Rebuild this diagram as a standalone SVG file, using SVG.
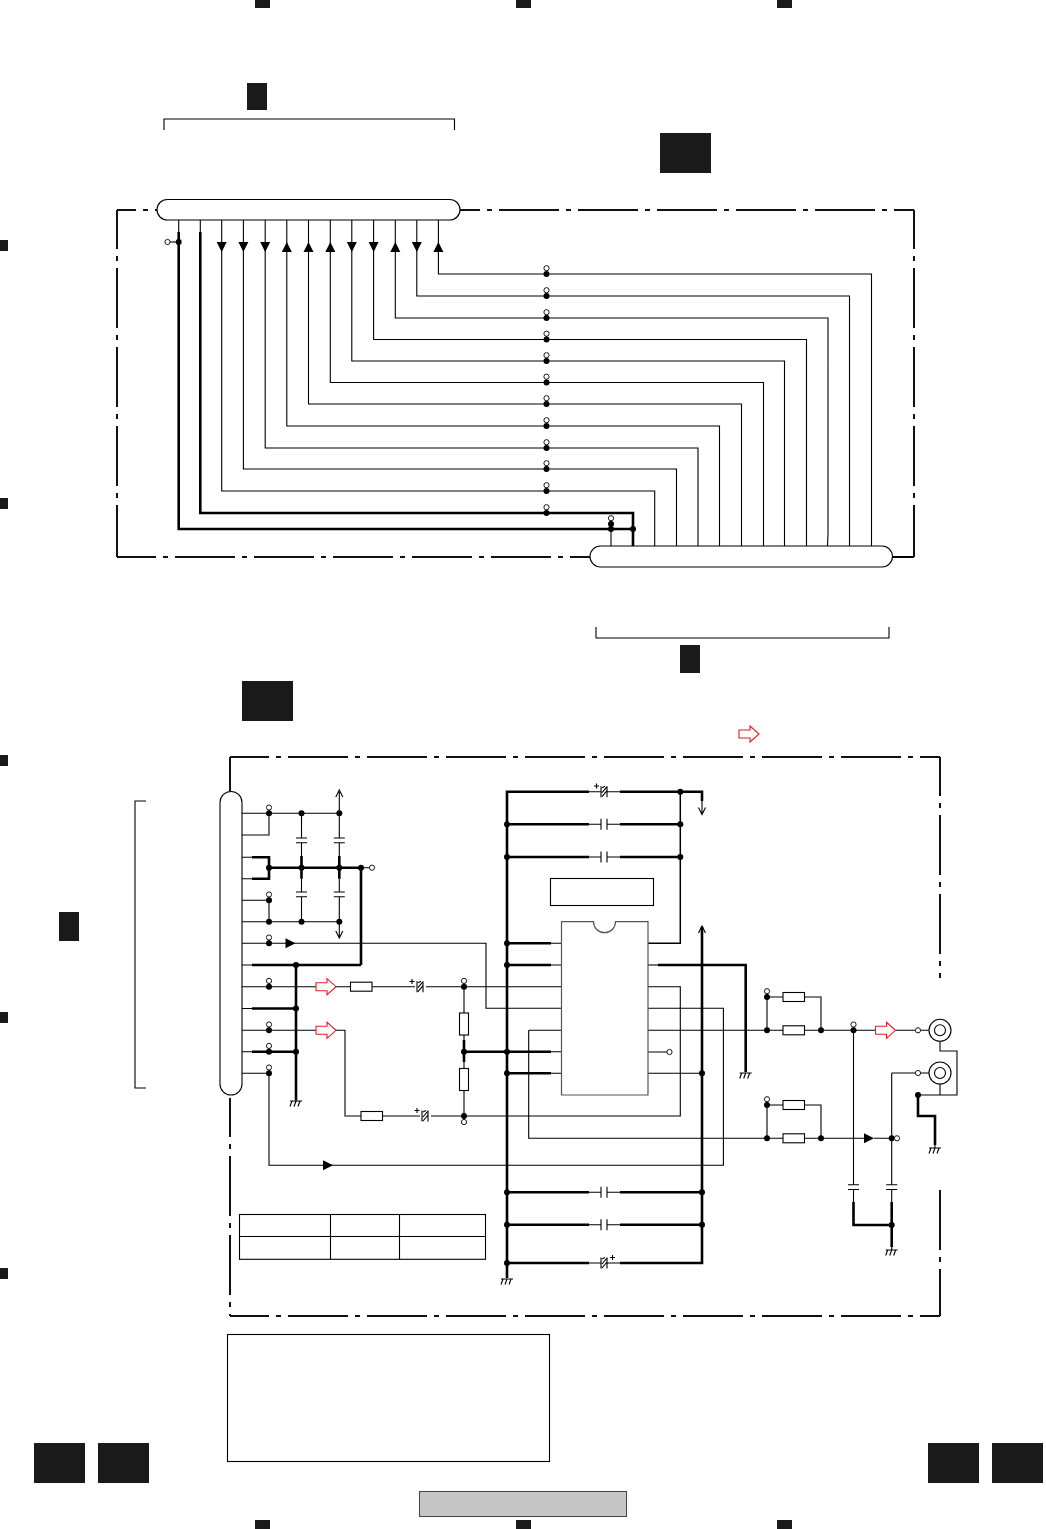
<svg xmlns="http://www.w3.org/2000/svg" xmlns:xlink="http://www.w3.org/1999/xlink" width="1046" height="1529" viewBox="0 0 1046 1529">
<style>
.t{fill:none;stroke:#000;stroke-width:1.1}
.b{fill:none;stroke:#000;stroke-width:2.6}
.f{fill:none;stroke:#111;stroke-width:2;stroke-dasharray:60 7 5 7}
.w{fill:#fff;stroke:#000;stroke-width:1.1}
.k{fill:#1a1a1a}
.o{fill:#fff;stroke:#000;stroke-width:.9}
.d{fill:#000}
.r{fill:#fff;stroke:#e01f26;stroke-width:1.1}
</style>
<defs>
<circle id="dot" class="d" r="3"/>
<circle id="open" class="o" r="2.6"/>
<g id="dotopen"><line class="t" x1="0" y1="-5" x2="0" y2="0"/><circle class="o" cy="-5.8" r="2.6"/><circle class="d" r="3"/></g>
<g id="gnd"><path class="t" d="M-6 0H6M-4 0L-6 5.5M0 0L-2 5.5M4 0L2 5.5"/></g>
<path id="tdn" class="d" d="M-5 0H5L0 10Z"/>
<path id="tup" class="d" d="M-5 10H5L0 0Z"/>
<path id="trt" class="d" d="M0 -5V5L10 0Z"/>
<path id="red" class="r" d="M0 -4H11V-8L20 0L11 8V4H0Z"/>
<rect id="res" class="w" x="0" y="-4.5" width="21.5" height="9"/>
<rect id="resv" class="w" x="-4.5" y="0" width="9" height="22"/>
<g id="capv"><path class="t" d="M-5.5 0H5.5M-5.5 4.8H5.5"/></g>
<g id="caph"><path class="t" d="M0 -5.5V5.5M6 -5.5V5.5"/></g>
<g id="pol"><path class="t" d="M0 -5.5V5.5M6 -5.5V5.5M1 5L6 -1M1 1L6 -5M1 -4L4 -5.5"/></g>
<path id="plus" class="t" d="M-2.5 0H2.5M0 -2.5V2.5"/>
<g id="jack"><circle class="w" r="11"/><circle class="w" r="5.5"/></g>
</defs>

<g id="registration-marks">
<rect class="k" x="255" y="0" width="15" height="8"/><rect class="k" x="516" y="0" width="15" height="8"/><rect class="k" x="777" y="0" width="15" height="8"/>
<rect class="k" x="255" y="1520" width="15" height="9"/><rect class="k" x="516" y="1520" width="15" height="9"/><rect class="k" x="777" y="1520" width="15" height="9"/>
<rect class="k" x="0" y="240" width="8" height="11"/><rect class="k" x="0" y="498" width="8" height="11"/><rect class="k" x="0" y="755" width="8" height="11"/><rect class="k" x="0" y="1012" width="8" height="11"/><rect class="k" x="0" y="1268" width="8" height="11"/>
</g>

<g id="labels-boxes">
<rect class="k" x="247" y="83" width="20" height="27"/>
<rect class="k" x="660" y="133" width="51" height="40"/>
<rect class="k" x="680" y="645" width="20" height="28"/>
<rect class="k" x="242" y="681" width="51" height="40"/>
<rect class="k" x="59" y="912" width="20" height="29"/>
<rect class="k" x="34" y="1443" width="51" height="40"/>
<rect class="k" x="98" y="1443" width="51" height="40"/>
<rect class="k" x="928" y="1443" width="51" height="40"/>
<rect class="k" x="992" y="1443" width="51" height="40"/>
<rect x="419.500" y="1491.500" width="207" height="25" fill="#c6c6c6" stroke="#444" stroke-width="1"/>
<use href="#red" x="739" y="734"/>
</g>

<g id="brackets">
<path class="t" d="M164 130V119H454.500V130" stroke-width="1.5"/>
<path class="t" d="M596 627V638H889V627" stroke-width="1.5"/>
<path class="t" d="M146 801H135V1088H146" stroke-width="1.5"/>
</g>

<g id="frames">
<line class="f" x1="117" y1="210" x2="157" y2="210" stroke-dashoffset="41"/>
<line class="f" x1="117" y1="210" x2="117" y2="557" stroke-dashoffset="21"/>
<line class="f" x1="117" y1="557" x2="590" y2="557" stroke-dashoffset="21"/>
<line class="f" x1="460" y1="210" x2="914" y2="210" stroke-dashoffset="40"/>
<line class="f" x1="914" y1="210" x2="914" y2="557" stroke-dashoffset="21"/>
<line class="t" x1="892" y1="557" x2="914" y2="557" style="stroke-width:2"/>
<line class="f" x1="230" y1="757" x2="940" y2="757" stroke-dashoffset="21"/>
<line class="f" x1="230" y1="757" x2="230" y2="791" stroke-dashoffset="21"/>
<line class="f" x1="230" y1="1098" x2="230" y2="1316" stroke-dashoffset="21"/>
<line class="f" x1="230" y1="1316" x2="940" y2="1316" stroke-dashoffset="21"/>
<line class="f" x1="940" y1="757" x2="940" y2="978" stroke-dashoffset="21"/>
<line class="f" x1="940" y1="1190" x2="940" y2="1316" stroke-dashoffset="0"/>
</g>

<g id="connectors">
<!-- top section -->
<path class="t" d="M178.700 220V232M200.300 220V232"/>
<path class="b" d="M178.700 232V529H633M200.300 232V513H633V546"/>
<path class="t" d="M611 546V518M633 529V546"/>
<path class="t" d="M178.700 242H168"/>
<path class="t" d="M221.700 220V491H654.700V546M243.400 220V469H676.500V546M265.200 220V448H698V546M286.800 220V426H719.500V546M308.500 220V404H741.500V546M330.300 220V382.500H763.500V546M351.800 220V361H784.500V546M373.600 220V339.500H806.500V546M395.300 220V318H828V534L827.500 546M416.800 220V296H849.500V546M438.400 220V274H871.500V546"/>
<!-- left power -->
<path class="t" d="M242 813.300H339.300V792M335.800 797L339.300 790L342.800 797M269 813.300V835H242"/>
<path class="t" d="M301.500 813.300V838M339.300 813.300V838M301.500 843V856M339.300 843V856"/>
<path class="b" d="M252 857.300H269V878.700H252M269 867.700H361V965"/>
<path class="b" d="M301.500 856V878.700M339.300 856V878.700M252 965H361"/>
<path class="t" d="M242 857.300H252M242 878.700H252M242 965H252M361 867.700H370"/>
<path class="t" d="M301.500 878.700V892M339.300 878.700V892M301.500 897V921.700M339.300 897V938M335.800 931L339.300 938L342.800 931M242 900.300H269V921.700M242 921.700H339.300"/>
<path class="t" d="M242 943.300H486V1008.300H561"/>
<path class="b" d="M296 965V1100"/>
<path class="t" d="M296 1100V1102"/>
<path class="t" d="M242 986.700H350M372 986.700H415M426 986.700H561"/>
<path class="b" d="M252 1008.500H296M252 1051.700H296"/>
<path class="t" d="M242 1008.500H252M242 1051.700H252"/>
<path class="t" d="M242 1030.300H345V1116H361M383 1116H420M431 1116H680.300V986.700H648"/>
<path class="t" d="M242 1073.300H269V1165.300H723.400V1008.300H648"/>
<path class="t" d="M464 986.700V1013M464 1035V1040M464 1062V1068.500M464 1090.500V1116"/>
<path class="b" d="M464 1040V1062M464 1051.700H551M507 1073.300H551M507 943.300H551M507 965H551"/>
<path class="t" d="M551 943.300H561M551 965H561M551 1051.700H561M551 1073.300H561"/>
<!-- IC bus -->
<path class="b" d="M507 1278V791.700H589M507 824.300H589M507 857H589M620 791.700H702V801M620 824.300H680M620 857H680"/>
<path class="t" d="M589 791.700H601M607 791.700H620M589 824.300H601M607 824.300H620M589 857H601M607 857H620M702 801V814M698.500 807.500L702 814.500L705.500 807.500"/>
<path class="t" d="M680.300 791.700V943.300H648" style="stroke-width:1.5"/>
<path class="t" d="M648 965H658"/>
<path class="b" d="M658 965H745.700V1072"/>
<path class="t" d="M528.700 1030.300H561M528.700 1030.300V1138.300H783M805 1138.300H864M874 1138.300H891.700M648 1052H667M648 1073.300H702"/>
<path class="t" d="M648 1030.300H783M805 1030.300H875M896 1030.300H915.500M920.500 1030.300H929"/>
<path class="b" d="M702 926.700V1263H620M507 1192.300H589M507 1224.800H589M507 1263H589M620 1192.300H702M620 1224.800H702"/>
<path class="t" d="M698.500 933L702 926L705.500 933M589 1192.300H601M607 1192.300H620M589 1224.800H601M607 1224.800H620M589 1263H601M607 1263H620"/>
<!-- right section -->
<path class="t" d="M767 1030.300V997H783M805 997H821V1030.300M767 1138.300V1105H783M805 1105H821V1138.300"/>
<path class="t" d="M853.500 1030.300V1184.700M853.500 1189.500V1202M891.700 1138.300V1184.700M891.700 1189.500V1202M891.700 1073H915.500M891.700 1073V1138.300"/>
<path class="b" d="M853.500 1202V1225H891.700M891.700 1202V1247M918 1095V1116H935V1145"/>
<path class="t" d="M891.700 1247V1250M935 1145V1148M940 1041V1051H957V1095H918M940 1084V1095M920.500 1073H929"/>
</g>

<g id="connector-top"><rect class="w" x="157" y="199.500" width="303" height="20.500" rx="10.200"/></g>
<g id="connector-bottom"><rect class="w" x="590" y="546" width="302.500" height="21" rx="10.500"/></g>
<g id="connector-left"><rect class="w" x="220" y="791.500" width="22" height="303.500" rx="11"/></g>

<g id="top-arrows">
<use href="#tdn" x="221.700" y="242"/><use href="#tdn" x="243.400" y="242"/><use href="#tdn" x="265.200" y="242"/>
<use href="#tup" x="286.800" y="242"/><use href="#tup" x="308.500" y="242"/><use href="#tup" x="330.300" y="242"/>
<use href="#tdn" x="351.800" y="242"/><use href="#tdn" x="373.600" y="242"/>
<use href="#tup" x="395.300" y="242"/><use href="#tdn" x="416.800" y="242"/><use href="#tup" x="438.400" y="242"/>
</g>
<g id="top-junctions">
<use href="#dot" x="178.700" y="242"/><use href="#open" x="167.500" y="242"/>
<use href="#dotopen" x="546.500" y="274"/><use href="#dotopen" x="546.500" y="296"/><use href="#dotopen" x="546.500" y="318"/><use href="#dotopen" x="546.500" y="339.500"/><use href="#dotopen" x="546.500" y="361"/><use href="#dotopen" x="546.500" y="382.500"/><use href="#dotopen" x="546.500" y="404"/><use href="#dotopen" x="546.500" y="426"/><use href="#dotopen" x="546.500" y="448"/><use href="#dotopen" x="546.500" y="469"/><use href="#dotopen" x="546.500" y="491"/><use href="#dotopen" x="546.500" y="513"/>
<use href="#dotopen" x="611" y="529" transform="translate(0 -5)"/><use href="#dot" x="611" y="529"/><use href="#dot" x="633" y="529"/>
</g>

<g id="left-junctions">
<use href="#dotopen" x="269" y="813.300"/><use href="#dot" x="301.500" y="813.300"/><use href="#dot" x="339.300" y="813.300"/>
<use href="#dot" x="269" y="867.700"/><use href="#dot" x="301.500" y="867.700"/><use href="#dot" x="339.300" y="867.700"/><use href="#dot" x="361" y="867.700"/><use href="#open" x="372" y="867.700"/>
<use href="#dotopen" x="269" y="900.300"/><use href="#dot" x="269" y="921.700"/><use href="#dot" x="301.500" y="921.700"/><use href="#dot" x="339.300" y="921.700"/>
<use href="#dotopen" x="269" y="943.300"/><use href="#dot" x="296" y="965"/><use href="#dotopen" x="269" y="986.700"/><use href="#dot" x="296" y="1008.500"/>
<use href="#dotopen" x="269" y="1030.300"/><use href="#dotopen" x="269" y="1051.700"/><use href="#dot" x="296" y="1051.700"/><use href="#dotopen" x="269" y="1073.300"/>
<use href="#dotopen" x="464" y="986.700"/><use href="#dot" x="464" y="1051.700"/><use href="#dot" x="464" y="1116"/><circle class="o" cx="464" cy="1122" r="2.600"/>
</g>
<g id="left-caps">
<use href="#capv" x="301.500" y="838"/><use href="#capv" x="339.300" y="838"/><use href="#capv" x="301.500" y="892"/><use href="#capv" x="339.300" y="892"/>
</g>
<g id="left-signal">
<use href="#trt" x="285.500" y="943.300"/><use href="#trt" x="323" y="1165.300"/>
<use href="#red" x="316" y="986.700"/><use href="#red" x="316" y="1030.300"/>
<use href="#res" x="350.500" y="986.700"/><use href="#res" x="361" y="1116"/>
<use href="#resv" x="464" y="1013"/><use href="#resv" x="464" y="1068.500"/>
<use href="#pol" x="417" y="986.700"/><use href="#plus" x="412" y="981.500"/>
<use href="#pol" x="422" y="1116"/><use href="#plus" x="417" y="1110.500"/>
<use href="#gnd" x="296" y="1101"/>
</g>

<g id="ic">
<path fill="#fff" stroke="#555" stroke-width="1.200" d="M561.500 921.700H593.500A11 11 0 0 0 615.500 921.700H648V1095H561.500Z"/>
</g>
<g id="ic-open"><use href="#open" x="669.500" y="1052"/></g>
<g id="ic-label"><rect class="w" x="550.500" y="878.500" width="103" height="27"/></g>
<g id="ic-components">
<use href="#pol" x="601" y="791.700"/><use href="#plus" x="596.500" y="786"/>
<use href="#caph" x="601" y="824.300"/><use href="#caph" x="601" y="857"/>
<use href="#caph" x="601" y="1192.300"/><use href="#caph" x="601" y="1224.800"/>
<use href="#pol" x="601" y="1263"/><use href="#plus" x="612.500" y="1257.500"/>
<use href="#dot" x="680.300" y="791.700"/><use href="#dot" x="680.300" y="824.300"/><use href="#dot" x="680.300" y="857"/>
<use href="#dot" x="507" y="824.300"/><use href="#dot" x="507" y="857"/><use href="#dot" x="507" y="943.300"/><use href="#dot" x="507" y="965"/><use href="#dot" x="507" y="1051.700"/><use href="#dot" x="507" y="1073.300"/><use href="#dot" x="507" y="1192.300"/><use href="#dot" x="507" y="1224.800"/><use href="#dot" x="507" y="1263"/>
<use href="#dot" x="702" y="1073.300"/><use href="#dot" x="702" y="1192.300"/><use href="#dot" x="702" y="1224.800"/>
<use href="#gnd" x="507" y="1279"/><use href="#gnd" x="745.700" y="1073"/>
</g>

<g id="output-section">
<use href="#dotopen" x="767" y="997"/><use href="#dot" x="767" y="1030.300"/><use href="#dot" x="821" y="1030.300"/>
<use href="#dotopen" x="767" y="1105"/><use href="#dot" x="767" y="1138.300"/><use href="#dot" x="821" y="1138.300"/>
<use href="#res" x="783" y="997"/><use href="#res" x="783" y="1030.300"/><use href="#res" x="783" y="1105"/><use href="#res" x="783" y="1138.300"/>
<use href="#dotopen" x="853.500" y="1030.300"/><use href="#red" x="875.500" y="1030.300"/>
<use href="#trt" x="864" y="1138.300"/><use href="#dot" x="891.700" y="1138.300"/><use href="#open" x="897" y="1138.300"/>
<use href="#open" x="918" y="1030.300"/><use href="#open" x="918" y="1073"/><use href="#dot" x="918" y="1095"/>
<use href="#jack" x="940" y="1030.300"/><use href="#jack" x="940" y="1073"/>
<use href="#capv" x="853.500" y="1184.700"/><use href="#capv" x="891.700" y="1184.700"/><use href="#dot" x="891.700" y="1225"/>
<use href="#gnd" x="891.700" y="1250"/><use href="#gnd" x="935" y="1148"/>
</g>

<g id="table">
<rect class="t" x="239.500" y="1214.500" width="246" height="44.800"/>
<path class="t" d="M239.500 1236.500H485.500M330.500 1214.500V1259.300M399.500 1214.500V1259.300"/>
</g>
<g id="note-box"><rect class="t" x="227.500" y="1334.500" width="322" height="127"/></g>
</svg>
